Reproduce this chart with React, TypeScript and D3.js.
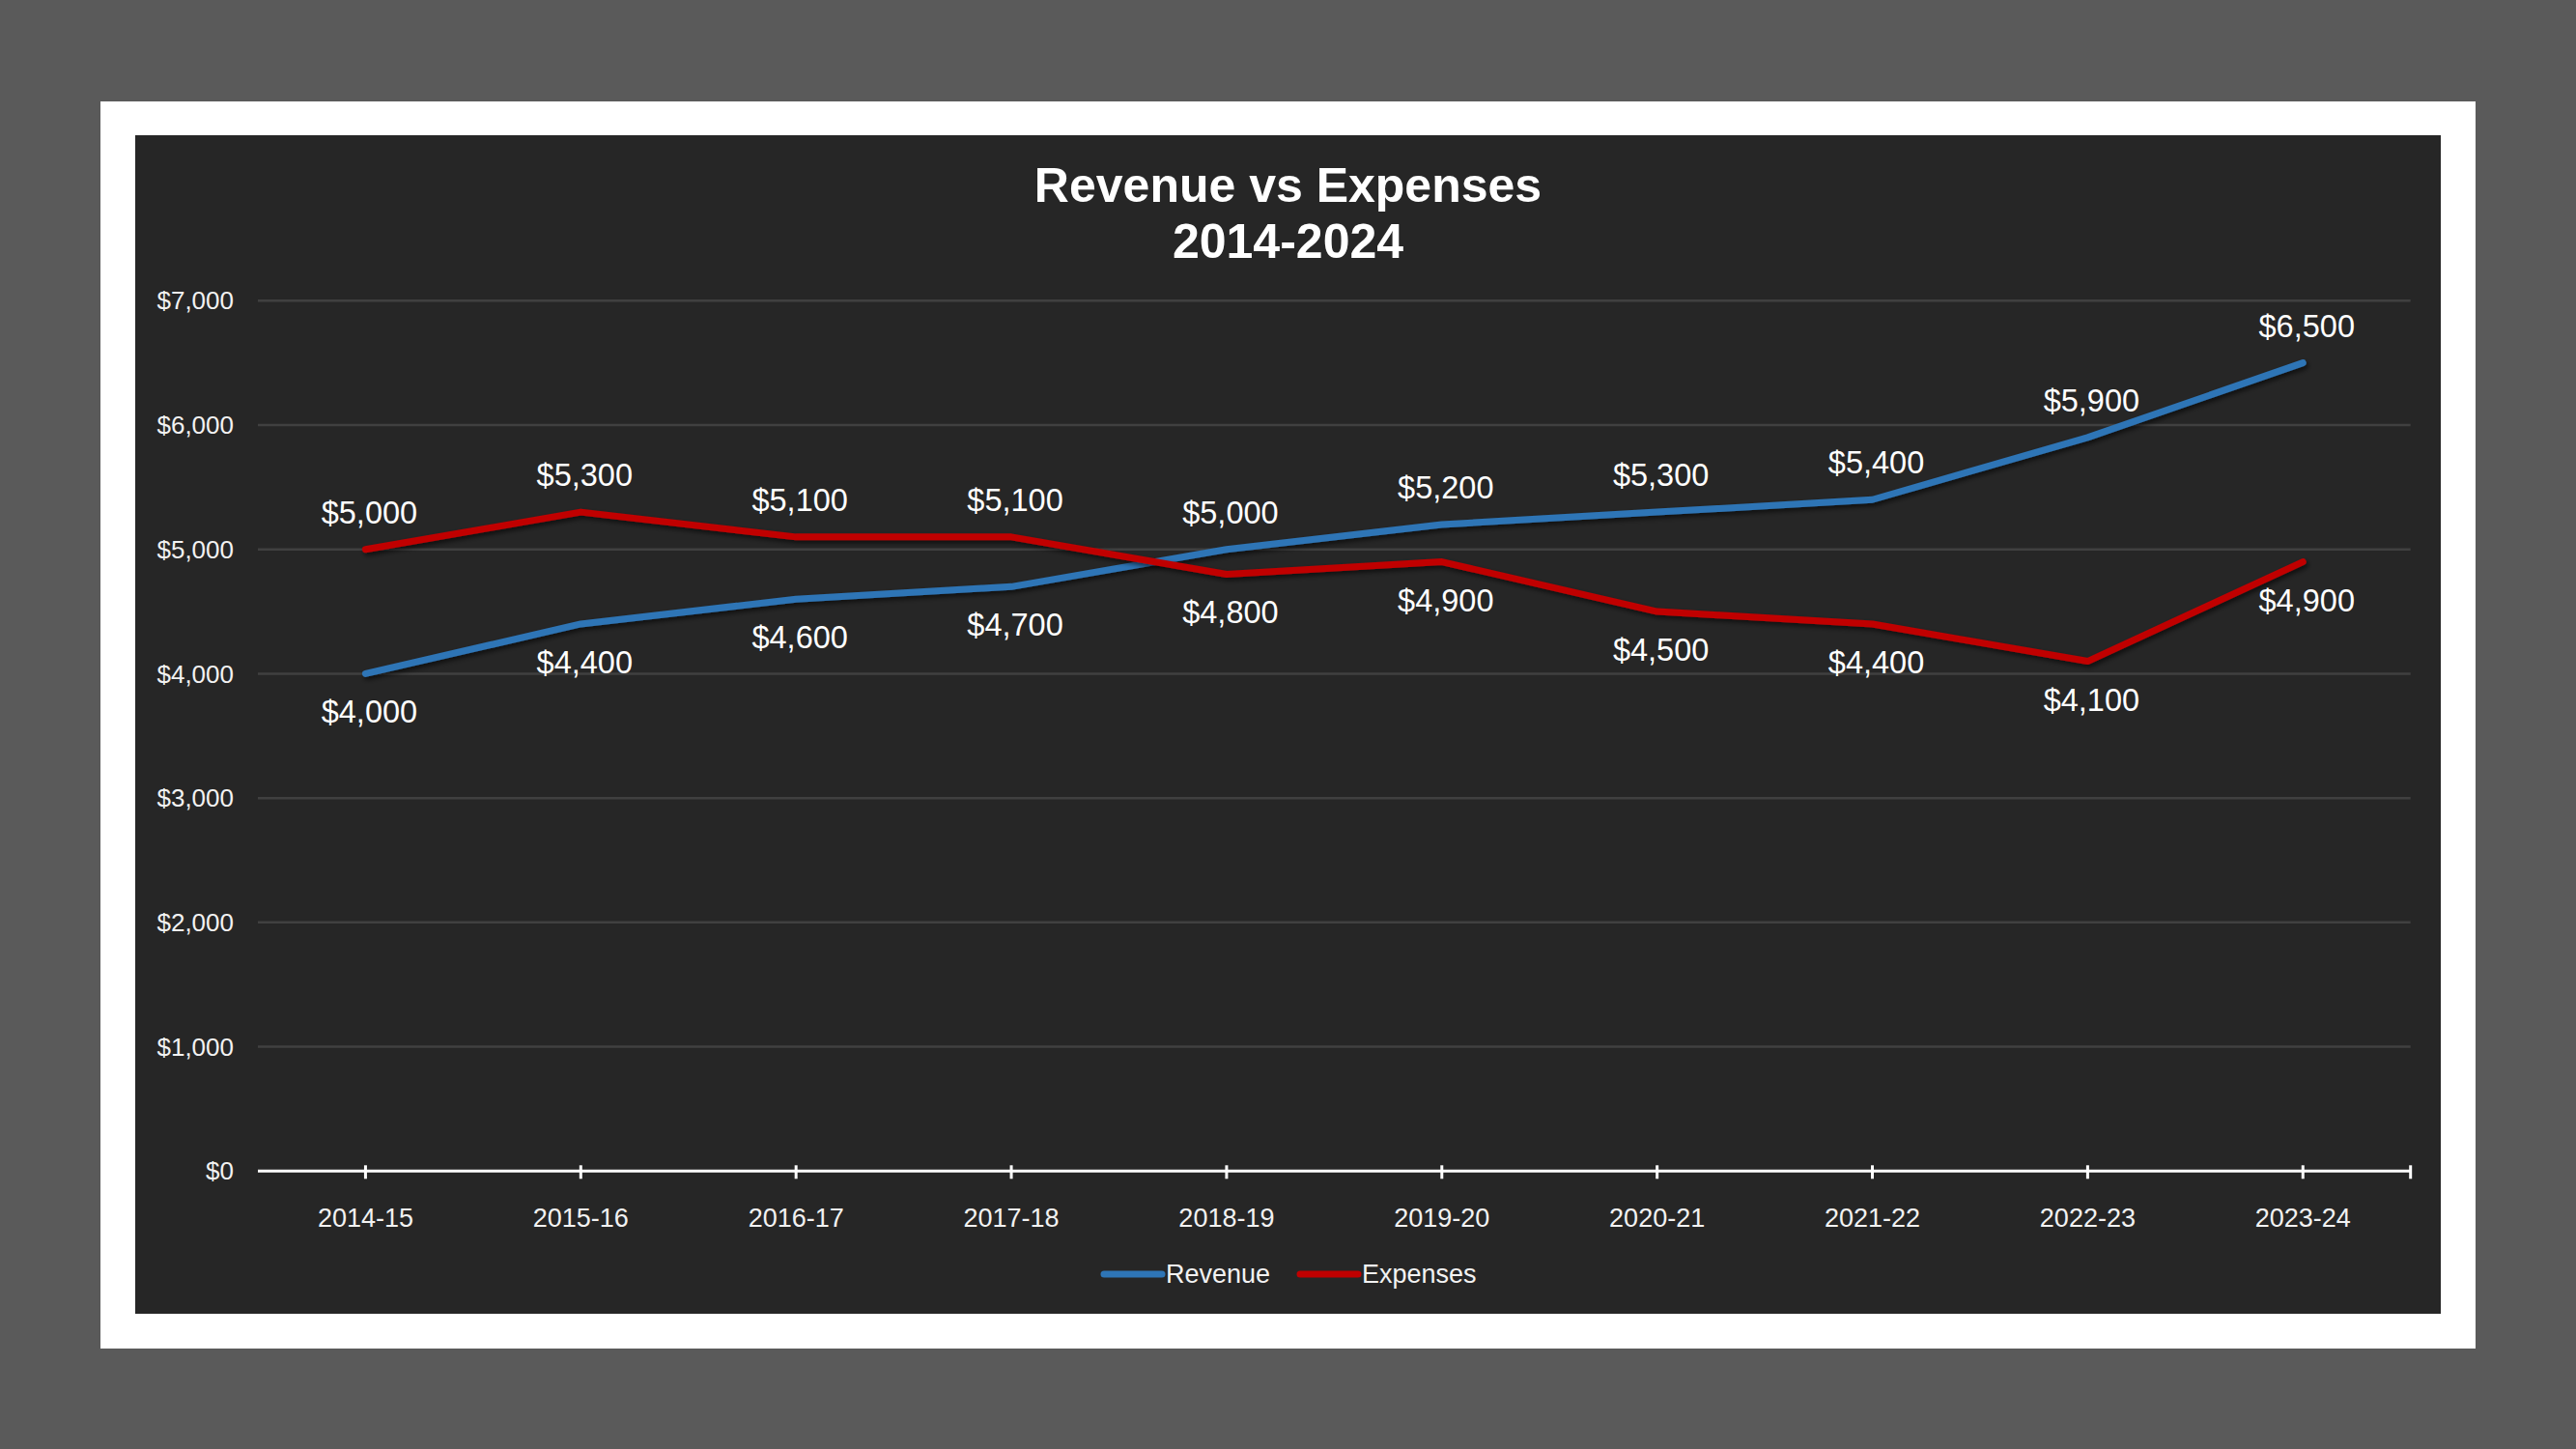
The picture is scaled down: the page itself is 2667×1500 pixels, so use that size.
import React from "react";
import * as d3 from "d3";

const categories = ["2014-15", "2015-16", "2016-17", "2017-18", "2018-19", "2019-20", "2020-21", "2021-22", "2022-23", "2023-24"];
const revenue = [4000, 4400, 4600, 4700, 5000, 5200, 5300, 5400, 5900, 6500];
const expenses = [5000, 5300, 5100, 5100, 4800, 4900, 4500, 4400, 4100, 4900];
const yTicks = [0, 1000, 2000, 3000, 4000, 5000, 6000, 7000];
const seriesNames = ["Revenue", "Expenses"];
const titleLines = ["Revenue vs Expenses", "2014-2024"];

const W = 2667;
const H = 1500;
const FONT = "'Liberation Sans', Arial, Helvetica, sans-serif";
const BLUE = "#2E75B6";
const RED = "#C00000";

export default function App() {
  const x = d3.scaleBand<string>().domain(categories).range([267, 2495.7]);
  const cx = (c: string) => (x(c) as number) + x.bandwidth() / 2;
  const y = d3.scaleLinear().domain([0, 7000]).range([1212.3, 311.3]);
  const fmt = (v: number) => "$" + d3.format(",")(v);

  const line = d3
    .line<number>()
    .x((_, i) => cx(categories[i]))
    .y((d) => y(d));

  const series = [
    { name: seriesNames[0], values: revenue, other: expenses, color: BLUE },
    { name: seriesNames[1], values: expenses, other: revenue, color: RED },
  ];

  const [x0, x1] = x.range();

  return (
    <svg
      width={W}
      height={H}
      viewBox={`0 0 ${W} ${H}`}
      style={{ position: "absolute", left: 0, top: 0, display: "block" }}
      fontFamily={FONT}
    >
      <defs>
        <filter id="shadow" x="-5%" y="-20%" width="110%" height="140%">
          <feDropShadow dx="2" dy="3" stdDeviation="2.5" floodColor="#000" floodOpacity="0.6" />
        </filter>
      </defs>
      <rect x={0} y={0} width={W} height={H} fill="#5A5A5A" />
      <rect x={104} y={105} width={2459} height={1291} fill="#FFFFFF" />
      <rect x={140} y={140} width={2387} height={1220} fill="#262626" />

      {titleLines.map((t, i) => (
        <text
          key={t}
          x={1333.5}
          y={209 + i * 58}
          textAnchor="middle"
          fill="#FFFFFF"
          fontSize={50}
          fontWeight="bold"
        >
          {t}
        </text>
      ))}

      {yTicks.map((t) => (
        <g key={t}>
          {t > 0 && (
            <line x1={x0} x2={x1} y1={y(t)} y2={y(t)} stroke="#404040" strokeWidth={2.5} />
          )}
          <text x={242} y={y(t)} dy="0.35em" textAnchor="end" fill="#F2F2F2" fontSize={26}>
            {fmt(t)}
          </text>
        </g>
      ))}

      {/* x axis */}
      <line x1={x0} x2={x1} y1={y(0)} y2={y(0)} stroke="#FFFFFF" strokeWidth={3} />
      {categories.map((c) => (
        <g key={c}>
          <line x1={cx(c)} x2={cx(c)} y1={y(0) - 6} y2={y(0) + 8} stroke="#FFFFFF" strokeWidth={3} />
          <text x={cx(c)} y={1270} textAnchor="middle" fill="#F2F2F2" fontSize={27}>
            {c}
          </text>
        </g>
      ))}
      <line x1={x1} x2={x1} y1={y(0) - 6} y2={y(0) + 8} stroke="#FFFFFF" strokeWidth={3} />

      {series.map((s) => (
        <path
          key={s.name}
          d={line(s.values) as string}
          fill="none"
          stroke={s.color}
          strokeWidth={7}
          strokeLinecap="round"
          strokeLinejoin="round"
          filter="url(#shadow)"
        />
      ))}

      {series.map((s) =>
        s.values.map((v, i) => {
          const above = v > s.other[i];
          return (
            <text
              key={s.name + i}
              x={cx(categories[i]) + 4}
              y={above ? y(v) - 27 : y(v) + 51}
              textAnchor="middle"
              fill="#FFFFFF"
              fontSize={32.5}
            >
              {fmt(v)}
            </text>
          );
        })
      )}

      {/* legend */}
      {series.map((s, i) => {
        const lx = [1143, 1346][i];
        return (
          <g key={s.name}>
            <line x1={lx} x2={lx + 60} y1={1319} y2={1319} stroke={s.color} strokeWidth={7} strokeLinecap="round" />
            <text x={lx + 64} y={1328} fill="#F2F2F2" fontSize={27}>
              {s.name}
            </text>
          </g>
        );
      })}
    </svg>
  );
}
